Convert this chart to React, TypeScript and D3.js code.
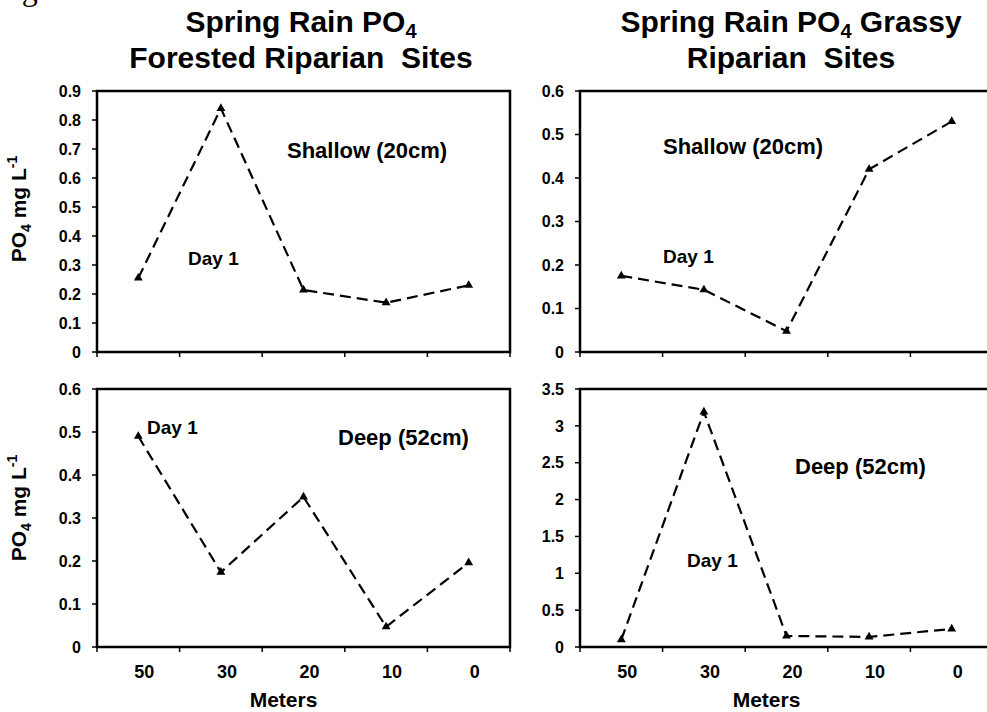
import React, { useEffect } from "react";
import * as d3 from "d3";

// distance from stream (m), left to right
const meters = ["50", "30", "20", "10", "0"];

// PO4 mg/L, Day 1
const forestedShallow = [0.255, 0.84, 0.214, 0.17, 0.23];
const grassyShallow = [0.175, 0.143, 0.048, 0.42, 0.53];
const forestedDeep = [0.49, 0.174, 0.349, 0.047, 0.196];
const grassyDeep = [0.1, 3.19, 0.15, 0.137, 0.245];

const forestedShallowTicks = [0, 0.1, 0.2, 0.3, 0.4, 0.5, 0.6, 0.7, 0.8, 0.9];
const grassyShallowTicks = [0, 0.1, 0.2, 0.3, 0.4, 0.5, 0.6];
const forestedDeepTicks = [0, 0.1, 0.2, 0.3, 0.4, 0.5, 0.6];
const grassyDeepTicks = [0, 0.5, 1, 1.5, 2, 2.5, 3, 3.5];

const W = 987, H = 712;
const FONT = "'Liberation Sans', Arial, sans-serif";

type PanelProps = {
  values: number[];
  ticks: number[];
  x0: number; x1: number; y0: number; y1: number;
  showXLabels: boolean;
  depthLabel: string;
  depthPos: [number, number];
  dayPos: [number, number];
};

const Panel = ({ values, ticks, x0, x1, y0, y1, showXLabels, depthLabel, depthPos, dayPos }: PanelProps) => {
  const x = d3.scaleBand().domain(meters).range([x0, x1]);
  const y = d3.scaleLinear().domain([0, d3.max(ticks) as number]).range([y1, y0]);
  const line = d3.line<number>()
    .x((_, i) => (x(meters[i]) as number) + x.bandwidth() / 2)
    .y(d => y(d));
  const tri = d3.symbol().type(d3.symbolTriangle).size(34)();
  const bounds = meters.map(m => x(m) as number).concat([x1]);

  return (
    <g>
      <path d={line(values) as string} fill="none" stroke="#000" strokeWidth={2.2} strokeDasharray="11,6" />
      {values.map((v, i) => (
        <path key={i} d={tri as string} fill="#000"
          transform={`translate(${(x(meters[i]) as number) + x.bandwidth() / 2},${y(v)})`} />
      ))}
      <rect x={x0} y={y0} width={x1 - x0} height={y1 - y0} fill="none" stroke="#000" strokeWidth={2.5} />
      {ticks.map(t => (
        <g key={t}>
          <line x1={x0 - 5} x2={x0} y1={y(t)} y2={y(t)} stroke="#000" strokeWidth={1.5} />
          <text x={x0 - 16} y={y(t)} dy="0.36em" textAnchor="end" fontSize={16} fontWeight="bold">{t}</text>
        </g>
      ))}
      {bounds.map((b, i) => (
        <line key={i} x1={b} x2={b} y1={y1} y2={y1 + 5} stroke="#000" strokeWidth={1.5} />
      ))}
      {showXLabels && meters.map(m => (
        <text key={m} x={(x(m) as number) + x.bandwidth() / 2 + 6} y={678} textAnchor="middle" fontSize={18} fontWeight="bold">{m}</text>
      ))}
      {showXLabels && (
        <text x={(x0 + x1) / 2 - 20} y={707} textAnchor="middle" fontSize={21} fontWeight="bold">Meters</text>
      )}
      <text x={depthPos[0]} y={depthPos[1]} fontSize={22} fontWeight="bold">{depthLabel}</text>
      <text x={dayPos[0]} y={dayPos[1]} fontSize={19} fontWeight="bold">Day 1</text>
    </g>
  );
};

const YLabel = ({ cx, cy }: { cx: number; cy: number }) => (
  <text transform={`translate(${cx},${cy}) rotate(-90)`} textAnchor="middle" fontSize={21} fontWeight="bold">
    PO<tspan fontSize={14} dy={5}>4</tspan><tspan dy={-5}> mg L</tspan><tspan fontSize={14} dy={-9}>-1</tspan>
  </text>
);

export default function App() {
  useEffect(() => {
    document.body.style.margin = "0";
  }, []);

  const L = { x0: 97, x1: 510 };
  const R = { x0: 580, x1: 993 };
  const T = { y0: 91, y1: 352 };
  const B = { y0: 389, y1: 647 };

  return (
    <svg width={W} height={H} style={{ display: "block", background: "#fff" }} fontFamily={FONT}>
      <text x={-5} y={0} fontFamily="'Liberation Serif', serif" fontSize={32}>Figure 4</text>

      <text x={301} y={32} textAnchor="middle" fontSize={30} fontWeight="bold">
        Spring Rain PO<tspan fontSize={20} dy={6}>4</tspan>
      </text>
      <text x={301} y={68} textAnchor="middle" fontSize={30} fontWeight="bold" style={{ whiteSpace: "pre" }}>
        Forested Riparian  Sites
      </text>
      <text x={791} y={32} textAnchor="middle" fontSize={30} fontWeight="bold">
        Spring Rain PO<tspan fontSize={20} dy={6}>4</tspan><tspan dy={-6}> Grassy</tspan>
      </text>
      <text x={791} y={68} textAnchor="middle" fontSize={30} fontWeight="bold" style={{ whiteSpace: "pre" }}>
        Riparian  Sites
      </text>

      <YLabel cx={26} cy={209} />
      <YLabel cx={26} cy={508} />

      <Panel values={forestedShallow} ticks={forestedShallowTicks} {...L} {...T}
        showXLabels={false} depthLabel="Shallow (20cm)" depthPos={[287, 158]} dayPos={[188, 265]} />
      <Panel values={grassyShallow} ticks={grassyShallowTicks} {...R} {...T}
        showXLabels={false} depthLabel="Shallow (20cm)" depthPos={[663, 154]} dayPos={[663, 263]} />
      <Panel values={forestedDeep} ticks={forestedDeepTicks} {...L} {...B}
        showXLabels={true} depthLabel="Deep (52cm)" depthPos={[338, 445]} dayPos={[147, 434]} />
      <Panel values={grassyDeep} ticks={grassyDeepTicks} {...R} {...B}
        showXLabels={true} depthLabel="Deep (52cm)" depthPos={[795, 474]} dayPos={[687, 567]} />
    </svg>
  );
}
